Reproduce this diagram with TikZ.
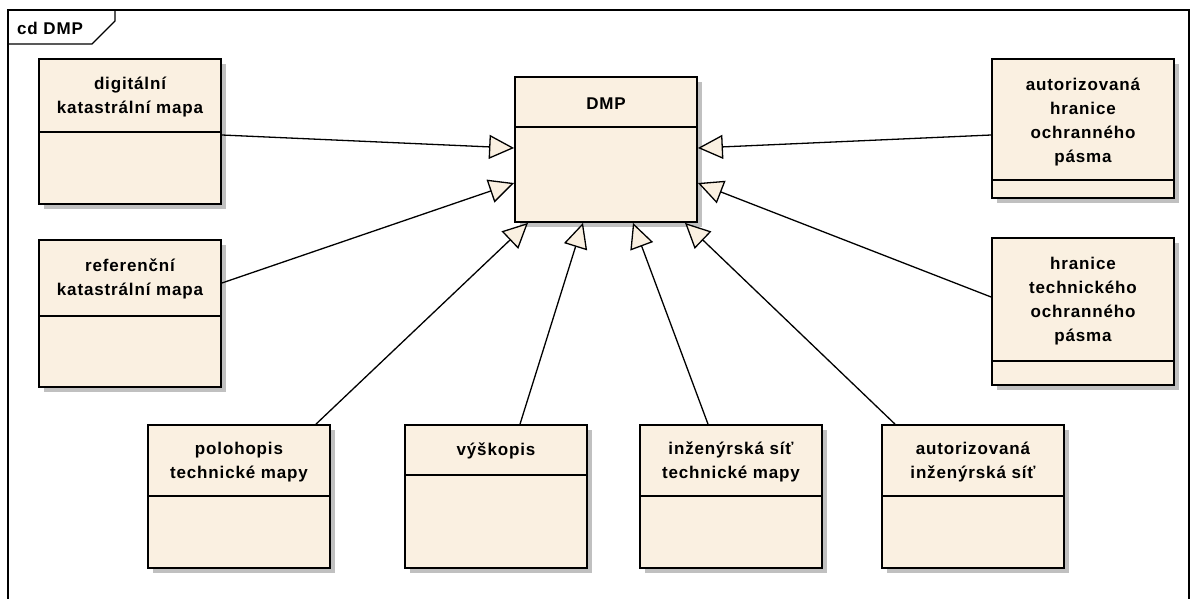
\documentclass[tikz,border=0pt]{standalone}
\usepackage{fontspec}
\setmainfont{Liberation Sans}[LetterSpace=5]
\usetikzlibrary{arrows.meta, calc, shadows}
\definecolor{umlfill}{HTML}{FAF0E1}
\definecolor{umlshadow}{HTML}{C0C0C0}

\begin{document}
\begin{tikzpicture}[x=1pt, y=-1pt,
  frame/.style={black, line width=1.3pt},
  umlclass/.style={draw, fill=umlfill, line width=1.8pt, inner sep=0pt, minimum width=182pt,
    general shadow={fill=umlshadow, shadow xshift=4.5pt, shadow yshift=-4.5pt}},
  title/.style={font=\fontsize{17}{24}\selectfont\bfseries, align=center, inner sep=0pt},
  divider/.style={line width=1.6pt},
  general/.style={-{Triangle[open, fill=umlfill, length=25pt, width=24pt]}, line width=1.3pt},
]
\useasboundingbox (0,0) rectangle (1197,598);

% ===== Diagram frame =====
\draw[frame] (8,620) -- (8,10) -- (1189,10) -- (1189,620);
\draw[frame] (8,44) -- (92,44) -- (115,21) -- (115,10);
\node[title, anchor=west] (frametitle) at (17,28) {cd DMP};

% ===== Classes =====
\node[umlclass, minimum height=145pt] (dmp) at (606,149.5) {};
\draw[divider] ($(dmp.north west)+(0,51)$) -- ($(dmp.north east)+(0,51)$);
\node[title] at ($(dmp.north)+(0,28)$) {DMP};

\node[umlclass, minimum height=145pt] (dkm) at (130,131.5) {};
\draw[divider] ($(dkm.north west)+(0,74)$) -- ($(dkm.north east)+(0,74)$);
\node[title] at ($(dkm.north)+(0,39)$) {digitální\\katastrální mapa};

\node[umlclass, minimum height=147pt] (rkm) at (130,313.5) {};
\draw[divider] ($(rkm.north west)+(0,77)$) -- ($(rkm.north east)+(0,77)$);
\node[title] at ($(rkm.north)+(0,40)$) {referenční\\katastrální mapa};

\node[umlclass, minimum height=139pt] (ahop) at (1083,128.5) {};
\draw[divider] ($(ahop.north west)+(0,122)$) -- ($(ahop.north east)+(0,122)$);
\node[title] at ($(ahop.north)+(0,64)$) {autorizovaná\\hranice\\ochranného\\pásma};

\node[umlclass, minimum height=147pt] (htop) at (1083,311.5) {};
\draw[divider] ($(htop.north west)+(0,124)$) -- ($(htop.north east)+(0,124)$);
\node[title] at ($(htop.north)+(0,64)$) {hranice\\technického\\ochranného\\pásma};

\node[umlclass, minimum height=143pt] (poltm) at (239,496.5) {};
\draw[divider] ($(poltm.north west)+(0,72)$) -- ($(poltm.north east)+(0,72)$);
\node[title] at ($(poltm.north)+(0,38)$) {polohopis\\technické mapy};

\node[umlclass, minimum height=143pt] (vys) at (496,496.5) {};
\draw[divider] ($(vys.north west)+(0,51)$) -- ($(vys.north east)+(0,51)$);
\node[title] at ($(vys.north)+(0,27)$) {výškopis};

\node[umlclass, minimum height=143pt] (istm) at (731,496.5) {};
\draw[divider] ($(istm.north west)+(0,72)$) -- ($(istm.north east)+(0,72)$);
\node[title] at ($(istm.north)+(0,38)$) {inženýrská síť\\technické mapy};

\node[umlclass, minimum height=143pt] (ais) at (973,496.5) {};
\draw[divider] ($(ais.north west)+(0,72)$) -- ($(ais.north east)+(0,72)$);
\node[title] at ($(ais.north)+(0,38)$) {autorizovaná\\inženýrská síť};

% ===== Generalizations =====
\draw[general] ($(dkm.east)+(0,3.5)$) -- ($(dmp.west)+(0,-1.5)$);
\draw[general] ($(rkm.east)+(0,-30.5)$) -- ($(dmp.west)+(0,33.5)$);
\draw[general] ($(ahop.west)+(0,6.5)$) -- ($(dmp.east)+(0,-1.5)$);
\draw[general] ($(htop.west)+(0,-14.5)$) -- ($(dmp.east)+(0,33.5)$);
\draw[general] ($(poltm.north)+(77,0)$) -- ($(dmp.south)+(-78,0)$);
\draw[general] ($(vys.north)+(24,0)$) -- ($(dmp.south)+(-23,0)$);
\draw[general] ($(istm.north)+(-23,0)$) -- ($(dmp.south)+(27,0)$);
\draw[general] ($(ais.north)+(-78,0)$) -- ($(dmp.south)+(79,0)$);

\end{tikzpicture}
\end{document}
